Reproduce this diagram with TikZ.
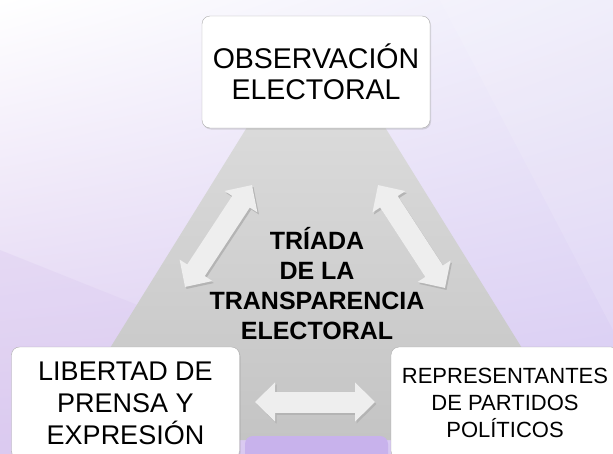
\documentclass[tikz,border=0pt]{standalone}
\usepackage{fontspec}
\setmainfont{Liberation Sans}
\usetikzlibrary{arrows.meta,shadows,shadings}

\definecolor{bgUR}{RGB}{238,236,250}
\definecolor{bgLL}{RGB}{219,202,240}
\definecolor{bgLR}{RGB}{214,200,242}
\definecolor{triTop}{RGB}{226,226,226}
\definecolor{triBot}{RGB}{196,196,196}
\definecolor{purp}{RGB}{200,178,236}
\definecolor{arrowfill}{RGB}{238,238,238}
\definecolor{arrowshade}{RGB}{180,180,180}

\begin{document}
\begin{tikzpicture}[x=1pt,y=-1pt]
\useasboundingbox (0,0) rectangle (613,453);
\clip (0,0) rectangle (613,453);
% background
\shade[upper left=white,upper right=bgUR,lower left=bgLL,lower right=bgLR] (0,0) rectangle (613,453);
\fill[white,opacity=0.12] (440,0) -- (613,0) -- (613,330) -- cycle;
\fill[bgLL,opacity=0.35] (0,250) -- (200,330) -- (0,453) -- cycle;
% triangle
\shade[top color=triTop,bottom color=triBot] (316,16) -- (579,440) -- (53,440) -- cycle;
\fill[purp,rounded corners=8pt] (245,436) rectangle (388,480);

\tikzstyle{box}=[rectangle,draw=gray!65,fill=white,rounded corners=8pt,minimum width=228pt,minimum height=112pt,align=center,
  drop shadow={opacity=0.25,shadow xshift=1pt,shadow yshift=-1.5pt}]
\node[box,font=\fontsize{28.5}{31}\selectfont] (obs) at (316,72) {OBSERVACIÓN\\ELECTORAL};
\node[box,font=\fontsize{27}{32}\selectfont] (lib) at (125.5,403) {LIBERTAD DE\\PRENSA Y\\EXPRESIÓN};
\node[box,font=\fontsize{22}{27}\selectfont] (rep) at (505,403) {REPRESENTANTES\\DE PARTIDOS\\POLÍTICOS};
\node[align=center,font=\bfseries\fontsize{25}{30}\selectfont] (triada) at (317,284) {TRÍADA\\DE LA\\TRANSPARENCIA\\ELECTORAL};

% arrow ends
\coordinate (obsL) at (252,185);
\coordinate (libU) at (185,287);
\coordinate (obsR) at (378,185);
\coordinate (repU) at (445,288);
\coordinate (libR) at (255,402);
\coordinate (repL) at (375,402);
\tikzstyle{twoway}=[line width=21pt,draw=arrowfill,{Triangle[length=20pt,width=38pt]}-{Triangle[length=20pt,width=38pt]}]
\tikzstyle{twowayshadow}=[twoway,draw=arrowshade,transform canvas={shift={(1.5pt,-2pt)}}]
\draw[twowayshadow] (obsL) -- (libU);
\draw[twowayshadow] (obsR) -- (repU);
\draw[twowayshadow] (libR) -- (repL);
\draw[twoway] (obsL) -- (libU);
\draw[twoway] (obsR) -- (repU);
\draw[twoway] (libR) -- (repL);
\end{tikzpicture}
\end{document}
